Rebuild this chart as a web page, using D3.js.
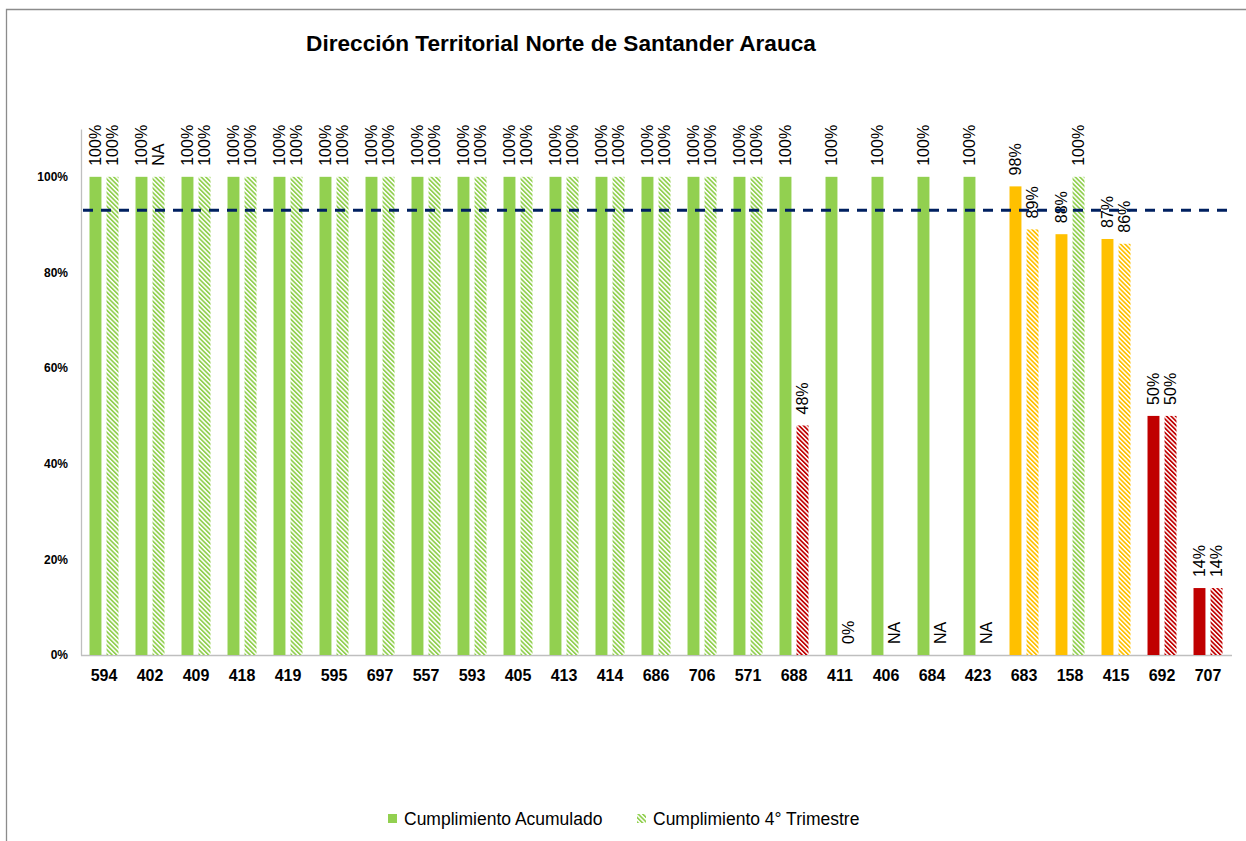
<!DOCTYPE html>
<html>
<head>
<meta charset="utf-8">
<script src="https://cdn.jsdelivr.net/npm/d3@7"></script>
<style>
  body { margin: 0; background: #fff; }
  svg { display: block; font-family: "Liberation Sans", Arial, sans-serif; }
</style>
</head>
<body>
<div id="chart"></div>
<script>
// categories (x axis)
const categories = ['594', '402', '409', '418', '419', '595', '697', '557', '593', '405', '413', '414',
  '686', '706', '571', '688', '411', '406', '684', '423', '683', '158', '415', '692', '707'];

// Cumplimiento Acumulado
const acumulado = [1, 1, 1, 1, 1, 1, 1, 1, 1, 1, 1, 1, 1, 1, 1, 1, 1, 1, 1, 1, 0.98, 0.88, 0.87, 0.50, 0.14];
// Cumplimiento 4° Trimestre (null = no bar)
const trimestre = [1, 1, 1, 1, 1, 1, 1, 1, 1, 1, 1, 1, 1, 1, 1, 0.48, 0, null, null, null, 0.89, 1, 0.86, 0.50, 0.14];
// label overrides
const trimestreLabels = [null, 'NA', null, null, null, null, null, null, null, null, null, null, null, null, null,
  null, null, 'NA', 'NA', 'NA', null, null, null, null, null];

const meta = 0.93;
const yTicks = [0, 0.2, 0.4, 0.6, 0.8, 1];
const series = ['acum', 'trim'];
const legendLabels = ['Cumplimiento Acumulado', 'Cumplimiento 4° Trimestre'];

const width = 1246, height = 841;
const colors = { green: '#92D050', orange: '#FFC000', red: '#C00000' };

// semaforo colour
const colorKey = v => v >= 0.995 ? 'green' : v >= 0.8 ? 'orange' : 'red';

const svg = d3.select('#chart').append('svg')
  .attr('width', width)
  .attr('height', height);

const defs = svg.append('defs');
Object.entries(colors).forEach(([k, c]) => {
  const p = defs.append('pattern')
    .attr('id', 'hatch-' + k)
    .attr('patternUnits', 'userSpaceOnUse')
    .attr('width', 3.2)
    .attr('height', 3.2)
    .attr('patternTransform', 'rotate(-45)');
  p.append('rect').attr('width', 3.2).attr('height', 3.2).attr('fill', '#fff');
  p.append('rect').attr('width', 1.7).attr('height', 3.2).attr('fill', c);
});

// outer frame
svg.append('path')
  .attr('d', `M6.5,${height + 5}V9.5H${width + 5}`)
  .attr('fill', 'none')
  .attr('stroke', '#8c8c8c')
  .attr('stroke-width', 1.3);

svg.append('text')
  .attr('x', 561)
  .attr('y', 51)
  .attr('text-anchor', 'middle')
  .attr('font-size', 22.6)
  .attr('font-weight', 'bold')
  .attr('fill', '#000')
  .text('Dirección Territorial Norte de Santander Arauca');

const x0 = d3.scaleBand()
  .domain(categories)
  .range([81, 1231])
  .paddingInner(0.37)
  .paddingOuter(0.185);

const x1 = d3.scaleBand()
  .domain(series)
  .range([0, x0.bandwidth()])
  .paddingInner(0.3);

const y = d3.scaleLinear()
  .domain([0, 1.1])
  .range([655, 129]);

// y axis
svg.append('g')
  .attr('transform', 'translate(81,0)')
  .call(d3.axisLeft(y).tickValues(yTicks).tickFormat(d3.format('.0%')).tickSize(0).tickPadding(13))
  .call(g => g.select('.domain').attr('stroke', '#bfbfbf').attr('stroke-width', 1.3))
  .call(g => g.selectAll('text')
    .attr('font-family', '"Liberation Sans", Arial, sans-serif')
    .attr('font-size', 12)
    .attr('font-weight', 'bold')
    .attr('fill', '#000'));

// x axis
svg.append('g')
  .attr('transform', 'translate(0,655)')
  .call(d3.axisBottom(x0).tickSize(0).tickPadding(15).tickSizeOuter(0))
  .call(g => g.select('.domain').attr('stroke', '#bfbfbf').attr('stroke-width', 1.3).attr('d', 'M81,0.5H1232'))
  .call(g => g.selectAll('text')
    .attr('font-family', '"Liberation Sans", Arial, sans-serif')
    .attr('font-size', 16)
    .attr('font-weight', 'bold')
    .attr('fill', '#000'));

const rows = categories.map((c, i) => ({
  c, i, acum: acumulado[i], trim: trimestre[i], trimLabel: trimestreLabels[i]
}));

const groups = svg.append('g')
  .selectAll('g')
  .data(rows)
  .join('g')
  .attr('transform', d => `translate(${x0(d.c)},0)`);

groups.append('rect')
  .attr('x', x1('acum'))
  .attr('width', x1.bandwidth())
  .attr('y', d => y(d.acum))
  .attr('height', d => y(0) - y(d.acum))
  .attr('fill', d => colors[colorKey(d.acum)]);

groups.filter(d => d.trim != null && d.trim > 0).append('rect')
  .attr('x', x1('trim'))
  .attr('width', x1.bandwidth())
  .attr('y', d => y(d.trim))
  .attr('height', d => y(0) - y(d.trim))
  .attr('fill', d => `url(#hatch-${colorKey(d.trim)})`);

const fmt = d3.format('.0%');
const labelGap = 11;

groups.append('text')
  .attr('transform', d => `translate(${x1('acum') + x1.bandwidth() / 2},${y(d.acum) - labelGap}) rotate(-90)`)
  .attr('dy', '0.35em')
  .attr('font-size', 16)
  .attr('fill', '#000')
  .text(d => fmt(d.acum));

groups.append('text')
  .attr('transform', d => `translate(${x1('trim') + x1.bandwidth() / 2},${y(d.trim == null ? 0 : d.trim) - labelGap}) rotate(-90)`)
  .attr('dy', '0.35em')
  .attr('font-size', 16)
  .attr('fill', '#000')
  .text(d => d.trimLabel != null ? d.trimLabel : fmt(d.trim));

// meta line
svg.append('line')
  .attr('x1', 83)
  .attr('x2', 1234)
  .attr('y1', y(meta))
  .attr('y2', y(meta))
  .attr('stroke', '#002060')
  .attr('stroke-width', 3)
  .attr('stroke-dasharray', '10,8');

// legend
const legend = svg.append('g')
  .selectAll('g')
  .data(series)
  .join('g')
  .attr('transform', (d, i) => `translate(${[388, 637][i]},814)`);

legend.append('rect')
  .attr('width', 9)
  .attr('height', 9)
  .attr('fill', (d, i) => i === 0 ? colors.green : 'url(#hatch-green)');

legend.append('text')
  .attr('x', 16)
  .attr('y', 4.5)
  .attr('dy', '0.35em')
  .attr('font-size', 17.5)
  .attr('fill', '#000')
  .text((d, i) => legendLabels[i]);
</script>
</body>
</html>
